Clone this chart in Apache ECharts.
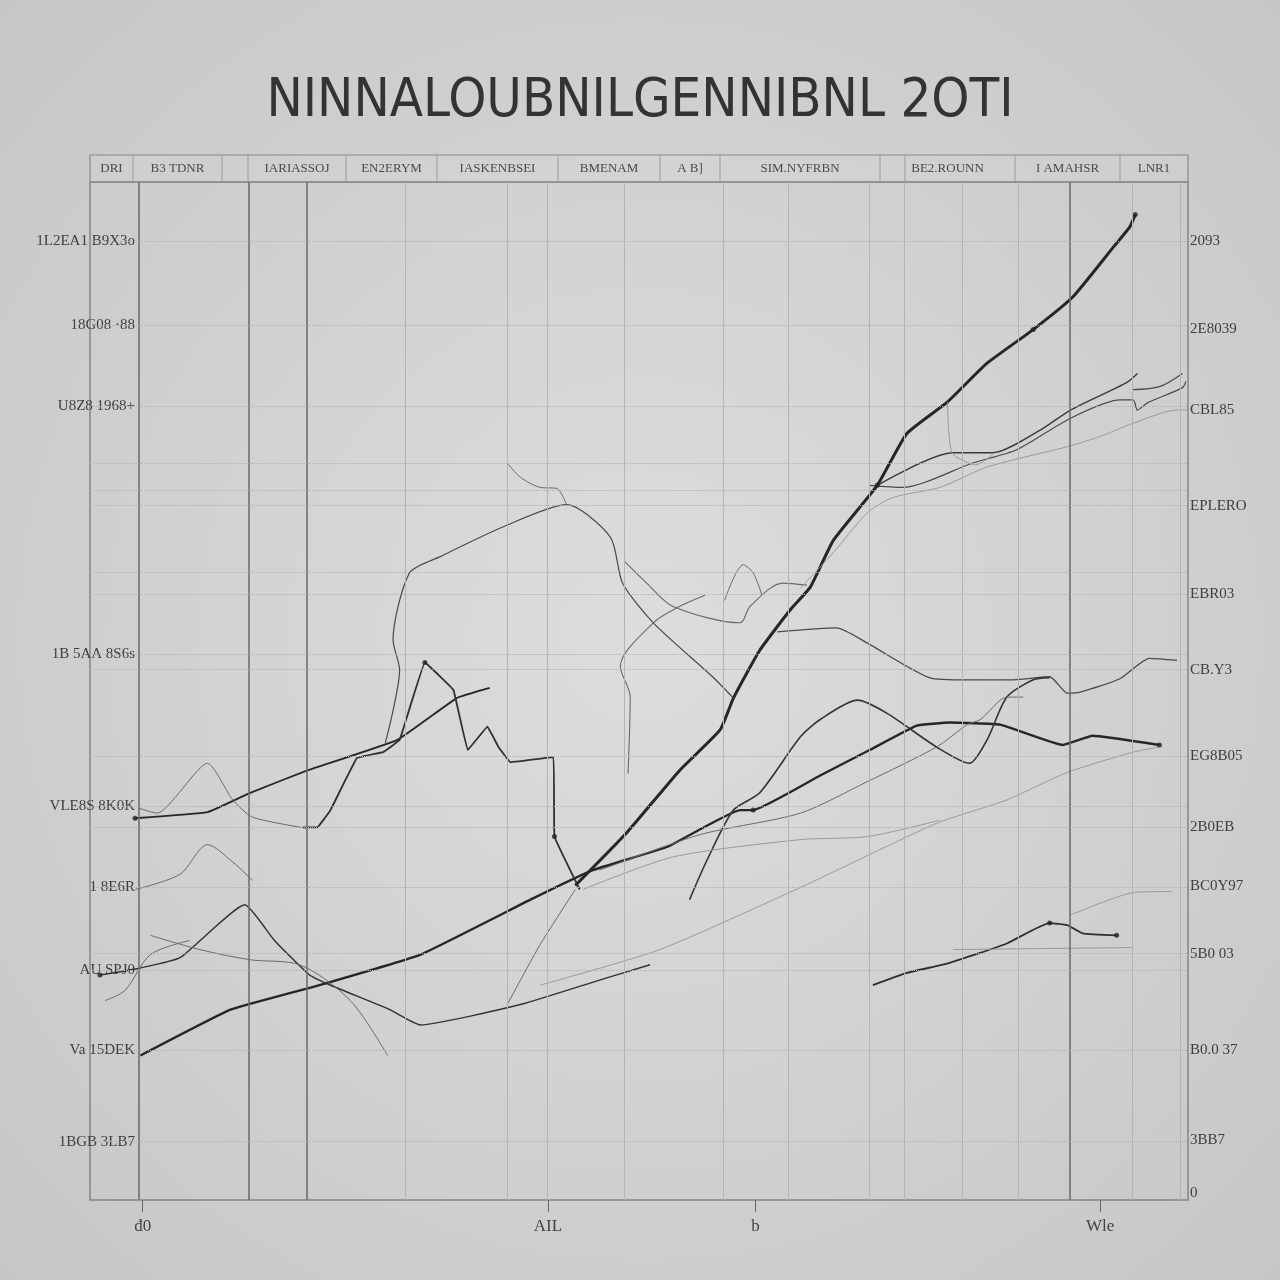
<!DOCTYPE html>
<html>
<head>
<meta charset="utf-8">
<script src="https://cdn.jsdelivr.net/npm/echarts@6/dist/echarts.min.js"></script>
<style>html,body{margin:0;padding:0;background:#d4d4d4}#chart{width:1280px;height:1280px}</style>
</head>
<body>
<div id="chart"></div>
<script>
// ---------- DATA (axis units 0-100) ----------
const titleText = 'NINNALOUBNILGENNIBNL 2OTI';

const headerLabels = ['DRI', 'B3 TDNR', 'IARIASSOJ', 'EN2ERYM', 'IASKENBSEI', 'BMENAM', 'A B]', 'SIM.NYFRBN', 'BE2.ROUNN', 'I AMAHSR', 'LNR1'];

const leftTickValues = [94.2, 85.9, 78.0, 53.6, 38.7, 30.7, 22.6, 14.7, 5.7];
const leftTickLabels = ['1L2EA1 B9X3o', '18G08 ·88', 'U8Z8 1968+', '1B 5AA 8S6s', 'VLE8S 8K0K', '1 8E6R', 'AU SPJ0', 'Va 15DEK', '1BGB 3LB7'];

const rightTickValues = [94.2, 85.6, 77.6, 68.2, 59.5, 52.1, 43.6, 36.6, 30.8, 24.2, 14.7, 5.9, 0.7];
const rightTickLabels = ['2093', '2E8039', 'CBL85', 'EPLERO', 'EBR03', 'CB.Y3', 'EG8B05', '2B0EB', 'BC0Y97', '5B0 03', 'B0.0 37', '3BB7', '0'];

const bottomTickValues = [4.8, 41.7, 60.6, 92.0];
const bottomTickLabels = ['đ0', 'AIL', 'b', 'Wle'];

const gridXStrong = [4.4, 14.5, 19.7, 89.2];
const gridXLight = [28.7, 38.0, 41.6, 48.7, 57.7, 63.6, 71.0, 74.2, 79.4, 84.5, 94.9, 99.3];
const gridYDotted = [94.2, 85.9, 78.0, 72.4, 69.7, 68.2, 61.7, 59.5, 53.6, 52.1, 43.6, 38.7, 36.6, 30.7, 24.2, 22.6, 14.7, 5.8];

const lineSteep = [[44.2,30.9],[48.9,36.1],[53.7,42.2],[57.4,46.2],[58.6,49.3],[61.0,54.0],[63.8,58.0],[65.6,60.2],[67.7,64.8],[71.7,70.2],[74.4,75.3],[78.1,78.4],[81.7,82.2],[85.9,85.5],[89.5,88.7],[93.2,93.6],[94.7,95.6],[95.2,96.8]];
const lineLong = [[4.6,14.2],[12.8,18.7],[20.9,21.1],[30.1,24.1],[40.3,29.6],[45.8,32.4],[52.6,34.7],[59.2,38.3],[60.4,38.3],[66.5,41.7],[71.0,44.2],[75.3,46.6],[78.3,46.9],[82.9,46.7],[88.6,44.7],[91.3,45.6],[97.4,44.7]];
const lineLeftRise = [[4.1,37.5],[10.7,38.1],[14.6,40.0],[19.8,42.2],[28.0,45.2],[33.4,49.3],[36.4,50.3]];
const linePeak = [[19.4,36.6],[20.7,36.6],[21.9,38.3],[24.3,43.4],[26.7,44.0],[28.2,45.2],[30.5,52.8],[33.1,50.1],[34.4,44.2],[36.2,46.5],[37.2,44.5],[38.3,43.0],[42.2,43.5],[42.3,35.7],[44.6,30.5]];
const lineArch = [[26.9,44.9],[28.2,52.1],[27.6,55.0],[29.1,61.6],[31.9,63.2],[38.0,66.3],[43.4,68.3],[47.4,65.1],[48.5,60.6],[51.3,56.7],[56.7,51.4],[58.6,49.3]];
const lineUpperMid = [[48.7,62.7],[50.7,60.6],[53.1,58.3],[59.2,56.7],[60.1,58.3],[63.1,60.6],[65.3,60.4]];
const lineBump = [[57.8,58.9],[59.5,62.4],[60.4,61.6],[61.2,59.4]];
const lineCross = [[56.0,59.4],[53.5,58.2],[51.3,56.7],[48.3,52.4],[49.2,49.4],[49.0,41.9]];
const lineRightA = [[62.6,55.8],[68.0,56.2],[70.8,54.7],[76.5,51.3],[79.9,51.1],[84.1,51.1],[87.4,51.4],[89.0,49.8],[90.2,49.9],[93.8,51.2],[96.5,53.2],[99.0,53.0]];
const lineRightB = [[54.6,29.5],[56.2,33.4],[58.6,38.3],[61.0,40.0],[64.7,45.5],[66.5,47.2],[69.9,49.1],[72.6,47.8],[77.1,44.5],[80.1,42.9],[81.7,45.2],[83.5,49.4],[85.9,51.1],[87.4,51.3]];
const lineRightC = [[46.4,32.4],[55.6,35.9],[64.7,38.0],[70.8,41.1],[77.1,44.5],[79.9,46.7],[81.1,47.2],[83.5,49.4],[85.0,49.4]];
const lineRightD = [[44.9,30.5],[53.1,33.7],[64.7,35.4],[70.8,35.7],[77.4,37.3]];
const lineRightE = [[41.0,21.1],[51.9,24.6],[64.7,30.7],[77.1,37.0],[83.5,39.3],[89.0,42.0],[95.0,44.0],[97.4,44.5]];
const lineLowRight = [[71.3,21.1],[74.4,22.3],[78.3,23.3],[83.5,25.2],[87.4,27.2],[89.0,27.0],[90.4,26.2],[93.5,26.0]];
const lineFlat = [[78.6,24.6],[95.0,24.8]];
const lineShortRight = [[89.3,28.0],[95.0,30.2],[98.6,30.3]];
const lineUpperA = [[71.7,70.2],[78.6,73.4],[82.2,73.4],[86.5,75.6],[89.3,77.6],[94.4,80.3],[95.4,81.2]];
const lineUpperB = [[71.0,70.2],[74.0,70.0],[80.4,72.4],[84.4,73.7],[89.3,76.8],[93.8,78.6],[95.0,78.6],[95.4,77.6],[96.3,78.3],[99.5,79.8],[99.8,80.4]];
const lineUpperC = [[95.0,79.6],[97.4,79.9],[99.5,81.2]];
const lineUpperLight = [[64.7,60.1],[67.7,63.6],[70.8,67.5],[73.1,69.0],[77.4,70.0],[81.7,72.0],[89.0,74.0],[92.0,75.0],[95.0,76.3],[99.0,77.6],[99.9,77.6]];
const lineDrop = [[78.1,78.4],[78.5,73.4],[80.7,72.2],[82.2,73.2]];
const lineLeftPeak = [[4.4,38.5],[6.1,38.0],[10.7,42.9],[13.0,39.3],[14.8,37.6],[19.8,36.5]];
const lineTopCurve = [[38.0,72.4],[39.2,71.0],[41.0,70.0],[42.5,69.9],[43.4,68.3]];
const lineLowLeft = [[0.9,22.1],[4.6,22.8],[8.2,23.8],[14.1,29.0],[16.8,25.5],[20.0,22.1],[21.9,21.1],[27.3,18.7],[30.1,17.2],[39.2,19.2],[46.4,21.6],[51.0,23.1]];
const lineLowLeftB = [[4.1,30.5],[8.2,32.0],[10.7,34.9],[13.0,33.2],[14.8,31.4]];
const lineLowLeftC = [[5.5,26.0],[10.0,24.6],[14.6,23.6],[19.1,23.1],[23.7,19.6],[27.1,14.2]];
const lineLowLeftD = [[1.4,19.6],[3.2,20.6],[5.5,24.1],[9.1,25.5]];
const lineMidRise = [[38.0,19.2],[41.0,25.1],[44.2,30.5]];
const markerPoints = [[95.2,96.8],[85.9,85.5],[30.5,52.8],[42.3,35.7],[71.7,70.2],[97.4,44.7],[93.5,26.0],[87.4,27.2],[4.1,37.5],[0.9,22.1],[60.4,38.3]];

// ---------- STYLES ----------
const DARK = '#262626', MID = '#4a4a4a', THIN = '#6a6a6a', LIGHT = '#9a9a9a';
const seriesDefs = [
  [lineSteep, DARK, 3, 0.15],
  [lineLong, DARK, 2.4, 0.1],
  [lineLeftRise, DARK, 1.8, 0.1],
  [linePeak, '#303030', 1.8, 0.05],
  [lineArch, MID, 1.2, 0.25],
  [lineUpperMid, THIN, 1.1, 0.3],
  [lineBump, THIN, 1, 0.3],
  [lineCross, THIN, 1.1, 0.3],
  [lineRightA, MID, 1.3, 0.2],
  [lineRightB, '#333', 1.6, 0.25],
  [lineRightC, THIN, 1, 0.25],
  [lineRightD, LIGHT, 1, 0.25],
  [lineRightE, LIGHT, 1, 0.2],
  [lineLowRight, '#2e2e2e', 1.8, 0.15],
  [lineFlat, LIGHT, 1, 0],
  [lineShortRight, LIGHT, 1, 0.2],
  [lineUpperA, '#3a3a3a', 1.4, 0.25],
  [lineUpperB, MID, 1.2, 0.25],
  [lineUpperC, MID, 1.2, 0.3],
  [lineUpperLight, LIGHT, 1, 0.25],
  [lineDrop, LIGHT, 1, 0.2],
  [lineLeftPeak, THIN, 1, 0.2],
  [lineTopCurve, THIN, 1, 0.3],
  [lineLowLeft, '#333', 1.5, 0.15],
  [lineLowLeftB, THIN, 1, 0.3],
  [lineLowLeftC, THIN, 1, 0.3],
  [lineLowLeftD, THIN, 1, 0.3],
  [lineMidRise, THIN, 1, 0.2]
];

function lookup(values, labels, v) {
  let best = 0, d = Infinity;
  values.forEach((x, i) => { const dd = Math.abs(x - v); if (dd < d) { d = dd; best = i; } });
  return labels[best];
}

const chart = echarts.init(document.getElementById('chart'), null, {renderer: 'canvas'});

const series = seriesDefs.map((d, i) => ({
  type: 'line',
  data: d[0],
  showSymbol: false,
  symbol: 'none',
  smooth: d[3],
  lineStyle: {color: d[1], width: d[2]},
  silent: true,
  z: 3
}));

// grid lines as markLines on a helper series
series.unshift({
  type: 'line',
  data: [],
  symbol: 'none',
  silent: true,
  z: 1,
  markLine: {
    symbol: 'none',
    silent: true,
    animation: false,
    label: {show: false},
    data: [
      ...gridXStrong.map(v => ({xAxis: v, lineStyle: {color: '#6e6e6e', width: 1.6, type: 'solid'}})),
      ...gridXLight.map(v => ({xAxis: v, lineStyle: {color: '#b4b4b4', width: 1, type: 'solid'}})),
      ...gridYDotted.map(v => ({yAxis: v, lineStyle: {color: '#b0b0b0', width: 1, type: 'dotted'}}))
    ]
  }
});

series.push({
  type: 'scatter',
  data: markerPoints,
  symbolSize: 5,
  itemStyle: {color: '#222'},
  silent: true,
  z: 4
});

// header row graphics
const headerCells = [[90,133],[133,222],[248,346],[346,437],[437,558],[558,660],[660,720],[720,880],[880,1015],[1015,1120],[1120,1188]];
const headerGraphics = [{
  type: 'rect', shape: {x: 90, y: 155, width: 1098, height: 27},
  style: {fill: 'rgba(255,255,255,0.06)', stroke: '#8a8a8a', lineWidth: 1.2}, silent: true
}];
[133, 222, 248, 346, 437, 558, 660, 720, 880, 905, 1015, 1120].forEach(x => {
  headerGraphics.push({type: 'line', shape: {x1: x, y1: 155, x2: x, y2: 182}, style: {stroke: '#9a9a9a', lineWidth: 1}, silent: true});
});
headerLabels.forEach((t, i) => {
  const c = headerCells[i];
  headerGraphics.push({
    type: 'text', x: (c[0] + c[1]) / 2, y: 169,
    style: {text: t, fill: '#4a4a4a', font: '13px "Liberation Serif", serif', align: 'center', verticalAlign: 'middle'},
    silent: true
  });
});

const labelFont = '"Liberation Serif", "DejaVu Serif", serif';

chart.setOption({
  animation: false,
  backgroundColor: new echarts.graphic.RadialGradient(0.5, 0.5, 0.75, [
    {offset: 0, color: '#dddddd'},
    {offset: 1, color: '#c5c5c5'}
  ]),
  title: {
    text: titleText, left: 'center', top: 70,
    textStyle: {fontFamily: '"Liberation Sans Narrow", "DejaVu Sans Condensed", "Liberation Sans", sans-serif', fontSize: 54, fontWeight: 'normal', color: '#333'}
  },
  grid: {left: 90, right: 92, top: 182, bottom: 80, show: true, borderColor: '#858585', borderWidth: 1.5, backgroundColor: 'transparent'},
  xAxis: {
    type: 'value', min: 0, max: 100,
    axisLine: {show: false},
    splitLine: {show: false},
    axisTick: {show: true, customValues: bottomTickValues, length: 12, lineStyle: {color: '#666'}},
    axisLabel: {customValues: bottomTickValues, margin: 18, fontSize: 17, color: '#444', fontFamily: labelFont,
      formatter: v => lookup(bottomTickValues, bottomTickLabels, v)}
  },
  yAxis: [{
    type: 'value', min: 0, max: 100, position: 'left',
    axisLine: {show: false}, splitLine: {show: false}, axisTick: {show: false},
    axisLabel: {customValues: leftTickValues, margin: -45, fontSize: 15, color: '#3e3e3e', fontFamily: labelFont,
      formatter: v => lookup(leftTickValues, leftTickLabels, v)}
  }, {
    type: 'value', min: 0, max: 100, position: 'right',
    axisLine: {show: false}, splitLine: {show: false}, axisTick: {show: false},
    axisLabel: {customValues: rightTickValues, margin: 2, fontSize: 15, color: '#3e3e3e', fontFamily: labelFont,
      formatter: v => lookup(rightTickValues, rightTickLabels, v)}
  }],
  graphic: headerGraphics,
  series: series
});
</script>
</body>
</html>
